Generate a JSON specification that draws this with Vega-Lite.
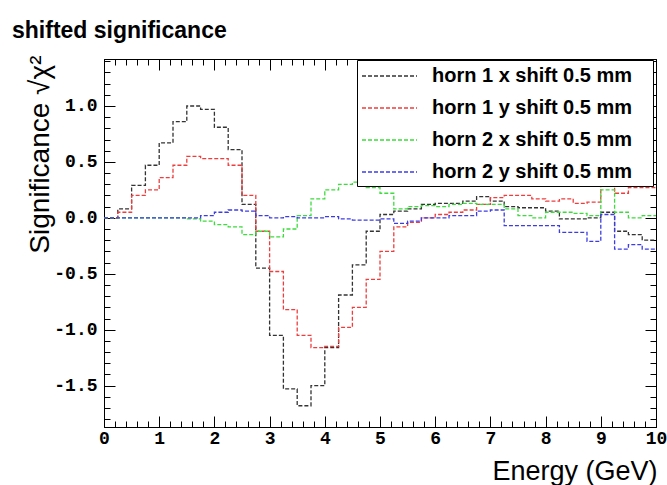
{
"$schema": "https://vega.github.io/schema/vega-lite/v6.json",
"width": 552, "height": 368,
"autosize": {"type": "none"},
"padding": {"left": 104, "top": 59, "right": 11, "bottom": 58},
"background": "white",
"title": {"text": "shifted significance", "anchor": "start", "frame": "group", "dx": -92, "dy": 27, "offset": 18, "font": "Liberation Sans", "fontSize": 23, "fontWeight": "bold", "color": "black", "baseline": "alphabetic"},
"config": {"view": {"stroke": "black", "strokeWidth": 1}},
"data": {"values": [
{"s":"horn 1 x shift 0.5 mm","e":0,"v":0},{"s":"horn 1 x shift 0.5 mm","e":0.25,"v":0.08},{"s":"horn 1 x shift 0.5 mm","e":0.5,"v":0.29},{"s":"horn 1 x shift 0.5 mm","e":0.75,"v":0.47},{"s":"horn 1 x shift 0.5 mm","e":1,"v":0.67},{"s":"horn 1 x shift 0.5 mm","e":1.25,"v":0.86},{"s":"horn 1 x shift 0.5 mm","e":1.5,"v":1.0},{"s":"horn 1 x shift 0.5 mm","e":1.75,"v":0.97},{"s":"horn 1 x shift 0.5 mm","e":2,"v":0.81},{"s":"horn 1 x shift 0.5 mm","e":2.25,"v":0.61},{"s":"horn 1 x shift 0.5 mm","e":2.5,"v":0.12},{"s":"horn 1 x shift 0.5 mm","e":2.75,"v":-0.45},{"s":"horn 1 x shift 0.5 mm","e":3,"v":-1.05},{"s":"horn 1 x shift 0.5 mm","e":3.25,"v":-1.53},{"s":"horn 1 x shift 0.5 mm","e":3.5,"v":-1.68},{"s":"horn 1 x shift 0.5 mm","e":3.75,"v":-1.5},{"s":"horn 1 x shift 0.5 mm","e":4,"v":-1.16},{"s":"horn 1 x shift 0.5 mm","e":4.25,"v":-0.69},{"s":"horn 1 x shift 0.5 mm","e":4.5,"v":-0.42},{"s":"horn 1 x shift 0.5 mm","e":4.75,"v":-0.12},{"s":"horn 1 x shift 0.5 mm","e":5,"v":0.03},{"s":"horn 1 x shift 0.5 mm","e":5.25,"v":0.06},{"s":"horn 1 x shift 0.5 mm","e":5.5,"v":0.08},{"s":"horn 1 x shift 0.5 mm","e":5.75,"v":0.12},{"s":"horn 1 x shift 0.5 mm","e":6,"v":0.13},{"s":"horn 1 x shift 0.5 mm","e":6.25,"v":0.13},{"s":"horn 1 x shift 0.5 mm","e":6.5,"v":0.15},{"s":"horn 1 x shift 0.5 mm","e":6.75,"v":0.19},{"s":"horn 1 x shift 0.5 mm","e":7,"v":0.15},{"s":"horn 1 x shift 0.5 mm","e":7.25,"v":0.1},{"s":"horn 1 x shift 0.5 mm","e":7.5,"v":0.09},{"s":"horn 1 x shift 0.5 mm","e":7.75,"v":0.09},{"s":"horn 1 x shift 0.5 mm","e":8,"v":0.06},{"s":"horn 1 x shift 0.5 mm","e":8.25,"v":-0.01},{"s":"horn 1 x shift 0.5 mm","e":8.5,"v":-0.01},{"s":"horn 1 x shift 0.5 mm","e":8.75,"v":0.0},{"s":"horn 1 x shift 0.5 mm","e":9,"v":0.05},{"s":"horn 1 x shift 0.5 mm","e":9.25,"v":-0.12},{"s":"horn 1 x shift 0.5 mm","e":9.5,"v":-0.15},{"s":"horn 1 x shift 0.5 mm","e":9.75,"v":-0.2},{"s":"horn 1 x shift 0.5 mm","e":10,"v":-0.2},
{"s":"horn 1 y shift 0.5 mm","e":0,"v":0},{"s":"horn 1 y shift 0.5 mm","e":0.25,"v":0.05},{"s":"horn 1 y shift 0.5 mm","e":0.5,"v":0.2},{"s":"horn 1 y shift 0.5 mm","e":0.75,"v":0.25},{"s":"horn 1 y shift 0.5 mm","e":1,"v":0.36},{"s":"horn 1 y shift 0.5 mm","e":1.25,"v":0.47},{"s":"horn 1 y shift 0.5 mm","e":1.5,"v":0.55},{"s":"horn 1 y shift 0.5 mm","e":1.75,"v":0.53},{"s":"horn 1 y shift 0.5 mm","e":2,"v":0.53},{"s":"horn 1 y shift 0.5 mm","e":2.25,"v":0.47},{"s":"horn 1 y shift 0.5 mm","e":2.5,"v":0.2},{"s":"horn 1 y shift 0.5 mm","e":2.75,"v":-0.12},{"s":"horn 1 y shift 0.5 mm","e":3,"v":-0.48},{"s":"horn 1 y shift 0.5 mm","e":3.25,"v":-0.82},{"s":"horn 1 y shift 0.5 mm","e":3.5,"v":-1.05},{"s":"horn 1 y shift 0.5 mm","e":3.75,"v":-1.16},{"s":"horn 1 y shift 0.5 mm","e":4,"v":-1.15},{"s":"horn 1 y shift 0.5 mm","e":4.25,"v":-0.98},{"s":"horn 1 y shift 0.5 mm","e":4.5,"v":-0.8},{"s":"horn 1 y shift 0.5 mm","e":4.75,"v":-0.55},{"s":"horn 1 y shift 0.5 mm","e":5,"v":-0.3},{"s":"horn 1 y shift 0.5 mm","e":5.25,"v":-0.08},{"s":"horn 1 y shift 0.5 mm","e":5.5,"v":-0.04},{"s":"horn 1 y shift 0.5 mm","e":5.75,"v":0.0},{"s":"horn 1 y shift 0.5 mm","e":6,"v":0.03},{"s":"horn 1 y shift 0.5 mm","e":6.25,"v":0.05},{"s":"horn 1 y shift 0.5 mm","e":6.5,"v":0.07},{"s":"horn 1 y shift 0.5 mm","e":6.75,"v":0.12},{"s":"horn 1 y shift 0.5 mm","e":7,"v":0.18},{"s":"horn 1 y shift 0.5 mm","e":7.25,"v":0.2},{"s":"horn 1 y shift 0.5 mm","e":7.5,"v":0.2},{"s":"horn 1 y shift 0.5 mm","e":7.75,"v":0.17},{"s":"horn 1 y shift 0.5 mm","e":8,"v":0.15},{"s":"horn 1 y shift 0.5 mm","e":8.25,"v":0.17},{"s":"horn 1 y shift 0.5 mm","e":8.5,"v":0.13},{"s":"horn 1 y shift 0.5 mm","e":8.75,"v":0.14},{"s":"horn 1 y shift 0.5 mm","e":9,"v":0.29},{"s":"horn 1 y shift 0.5 mm","e":9.25,"v":0.22},{"s":"horn 1 y shift 0.5 mm","e":9.5,"v":0.27},{"s":"horn 1 y shift 0.5 mm","e":9.75,"v":0.27},{"s":"horn 1 y shift 0.5 mm","e":10,"v":0.27},
{"s":"horn 2 x shift 0.5 mm","e":0,"v":0},{"s":"horn 2 x shift 0.5 mm","e":0.25,"v":0},{"s":"horn 2 x shift 0.5 mm","e":0.5,"v":0},{"s":"horn 2 x shift 0.5 mm","e":0.75,"v":0},{"s":"horn 2 x shift 0.5 mm","e":1,"v":0},{"s":"horn 2 x shift 0.5 mm","e":1.25,"v":0},{"s":"horn 2 x shift 0.5 mm","e":1.5,"v":-0.01},{"s":"horn 2 x shift 0.5 mm","e":1.75,"v":-0.03},{"s":"horn 2 x shift 0.5 mm","e":2,"v":-0.06},{"s":"horn 2 x shift 0.5 mm","e":2.25,"v":-0.08},{"s":"horn 2 x shift 0.5 mm","e":2.5,"v":-0.15},{"s":"horn 2 x shift 0.5 mm","e":2.75,"v":-0.12},{"s":"horn 2 x shift 0.5 mm","e":3,"v":-0.17},{"s":"horn 2 x shift 0.5 mm","e":3.25,"v":-0.1},{"s":"horn 2 x shift 0.5 mm","e":3.5,"v":0.02},{"s":"horn 2 x shift 0.5 mm","e":3.75,"v":0.17},{"s":"horn 2 x shift 0.5 mm","e":4,"v":0.25},{"s":"horn 2 x shift 0.5 mm","e":4.25,"v":0.3},{"s":"horn 2 x shift 0.5 mm","e":4.5,"v":0.32},{"s":"horn 2 x shift 0.5 mm","e":4.75,"v":0.27},{"s":"horn 2 x shift 0.5 mm","e":5,"v":0.22},{"s":"horn 2 x shift 0.5 mm","e":5.25,"v":0.08},{"s":"horn 2 x shift 0.5 mm","e":5.5,"v":0.1},{"s":"horn 2 x shift 0.5 mm","e":5.75,"v":0.11},{"s":"horn 2 x shift 0.5 mm","e":6,"v":0.1},{"s":"horn 2 x shift 0.5 mm","e":6.25,"v":0.12},{"s":"horn 2 x shift 0.5 mm","e":6.5,"v":0.13},{"s":"horn 2 x shift 0.5 mm","e":6.75,"v":0.12},{"s":"horn 2 x shift 0.5 mm","e":7,"v":0.12},{"s":"horn 2 x shift 0.5 mm","e":7.25,"v":0.08},{"s":"horn 2 x shift 0.5 mm","e":7.5,"v":0.02},{"s":"horn 2 x shift 0.5 mm","e":7.75,"v":0.0},{"s":"horn 2 x shift 0.5 mm","e":8,"v":0.05},{"s":"horn 2 x shift 0.5 mm","e":8.25,"v":0.05},{"s":"horn 2 x shift 0.5 mm","e":8.5,"v":0.04},{"s":"horn 2 x shift 0.5 mm","e":8.75,"v":0.02},{"s":"horn 2 x shift 0.5 mm","e":9,"v":0.25},{"s":"horn 2 x shift 0.5 mm","e":9.25,"v":0.05},{"s":"horn 2 x shift 0.5 mm","e":9.5,"v":0.0},{"s":"horn 2 x shift 0.5 mm","e":9.75,"v":0.02},{"s":"horn 2 x shift 0.5 mm","e":10,"v":0.02},
{"s":"horn 2 y shift 0.5 mm","e":0,"v":0},{"s":"horn 2 y shift 0.5 mm","e":0.25,"v":0},{"s":"horn 2 y shift 0.5 mm","e":0.5,"v":0},{"s":"horn 2 y shift 0.5 mm","e":0.75,"v":0},{"s":"horn 2 y shift 0.5 mm","e":1,"v":0},{"s":"horn 2 y shift 0.5 mm","e":1.25,"v":0},{"s":"horn 2 y shift 0.5 mm","e":1.5,"v":0},{"s":"horn 2 y shift 0.5 mm","e":1.75,"v":0.02},{"s":"horn 2 y shift 0.5 mm","e":2,"v":0.05},{"s":"horn 2 y shift 0.5 mm","e":2.25,"v":0.07},{"s":"horn 2 y shift 0.5 mm","e":2.5,"v":0.06},{"s":"horn 2 y shift 0.5 mm","e":2.75,"v":0.02},{"s":"horn 2 y shift 0.5 mm","e":3,"v":0.0},{"s":"horn 2 y shift 0.5 mm","e":3.25,"v":0.01},{"s":"horn 2 y shift 0.5 mm","e":3.5,"v":0.0},{"s":"horn 2 y shift 0.5 mm","e":3.75,"v":0.0},{"s":"horn 2 y shift 0.5 mm","e":4,"v":0.01},{"s":"horn 2 y shift 0.5 mm","e":4.25,"v":-0.01},{"s":"horn 2 y shift 0.5 mm","e":4.5,"v":-0.02},{"s":"horn 2 y shift 0.5 mm","e":4.75,"v":-0.02},{"s":"horn 2 y shift 0.5 mm","e":5,"v":-0.01},{"s":"horn 2 y shift 0.5 mm","e":5.25,"v":-0.05},{"s":"horn 2 y shift 0.5 mm","e":5.5,"v":-0.03},{"s":"horn 2 y shift 0.5 mm","e":5.75,"v":0.0},{"s":"horn 2 y shift 0.5 mm","e":6,"v":0.0},{"s":"horn 2 y shift 0.5 mm","e":6.25,"v":0.02},{"s":"horn 2 y shift 0.5 mm","e":6.5,"v":0.02},{"s":"horn 2 y shift 0.5 mm","e":6.75,"v":0.06},{"s":"horn 2 y shift 0.5 mm","e":7,"v":0.07},{"s":"horn 2 y shift 0.5 mm","e":7.25,"v":-0.07},{"s":"horn 2 y shift 0.5 mm","e":7.5,"v":-0.07},{"s":"horn 2 y shift 0.5 mm","e":7.75,"v":-0.07},{"s":"horn 2 y shift 0.5 mm","e":8,"v":-0.07},{"s":"horn 2 y shift 0.5 mm","e":8.25,"v":-0.13},{"s":"horn 2 y shift 0.5 mm","e":8.5,"v":-0.13},{"s":"horn 2 y shift 0.5 mm","e":8.75,"v":-0.21},{"s":"horn 2 y shift 0.5 mm","e":9,"v":0.03},{"s":"horn 2 y shift 0.5 mm","e":9.25,"v":-0.28},{"s":"horn 2 y shift 0.5 mm","e":9.5,"v":-0.24},{"s":"horn 2 y shift 0.5 mm","e":9.75,"v":-0.28},{"s":"horn 2 y shift 0.5 mm","e":10,"v":-0.28}
]},
"layer": [
{"mark": {"type": "line", "interpolate": "step-after", "strokeWidth": 1.3, "strokeDash": [4, 2]},
 "encoding": {
  "x": {"field": "e", "type": "quantitative", "scale": {"domain": [0, 10], "nice": false, "zero": false},
   "axis": {"orient": "bottom", "values": [0,0.2,0.4,0.6,0.8,1,1.2,1.4,1.6,1.8,2,2.2,2.4,2.6,2.8,3,3.2,3.4,3.6,3.8,4,4.2,4.4,4.6,4.8,5,5.2,5.4,5.6,5.8,6,6.2,6.4,6.6,6.8,7,7.2,7.4,7.6,7.8,8,8.2,8.4,8.6,8.8,9,9.2,9.4,9.6,9.8,10],
    "labelExpr": "abs(datum.value-round(datum.value))<0.001 ? format(datum.value,'d') : ''",
    "tickSize": {"condition": {"test": "abs(datum.value-round(datum.value))<0.001", "value": -11}, "value": -6},
    "labelFont": "Liberation Mono", "labelFontWeight": "bold", "labelFontSize": 18, "labelColor": "black", "labelPadding": 13, "labelFlush": false, "labelOverlap": false,
    "tickColor": "black", "domainColor": "black", "grid": false,
    "title": "Energy (GeV)", "titleFont": "Liberation Sans", "titleFontSize": 27, "titleFontWeight": "normal", "titleColor": "black", "titleAnchor": "end", "titleX": 553, "titleY": 52, "titleBaseline": "alphabetic"}},
  "y": {"field": "v", "type": "quantitative", "scale": {"domain": [-1.87, 1.42], "nice": false, "zero": false},
   "axis": {"orient": "left", "values": [-1.8,-1.7,-1.6,-1.5,-1.4,-1.3,-1.2,-1.1,-1,-0.9,-0.8,-0.7,-0.6,-0.5,-0.4,-0.3,-0.2,-0.1,0,0.1,0.2,0.3,0.4,0.5,0.6,0.7,0.8,0.9,1,1.1,1.2,1.3,1.4],
    "labelExpr": "abs(datum.value*2-round(datum.value*2))<0.001 ? replace(format(datum.value,'.1f'),'\u2212','-') : ''",
    "tickSize": {"condition": {"test": "abs(datum.value*2-round(datum.value*2))<0.001", "value": -11}, "value": -6},
    "labelFont": "Liberation Mono", "labelFontWeight": "bold", "labelFontSize": 18, "labelColor": "black", "labelPadding": 18, "labelFlush": false, "labelOverlap": false,
    "tickColor": "black", "domainColor": "black", "grid": false,
    "title": "Significance √χ²", "titleFont": "Liberation Sans", "titleFontSize": 28, "titleFontWeight": "normal", "titleColor": "black", "titleAnchor": "end", "titleX": -56, "titleY": -4, "titleBaseline": "alphabetic"}},
  "color": {"field": "s", "type": "nominal",
   "scale": {"domain": ["horn 1 x shift 0.5 mm", "horn 1 y shift 0.5 mm", "horn 2 x shift 0.5 mm", "horn 2 y shift 0.5 mm"], "range": ["#333333", "#f03c3c", "#3cdc3c", "#3c3ce6"]},
   "legend": {"orient": "none", "legendX": 253, "legendY": 1, "title": "\u00a0", "titleOrient": "right", "titleFontSize": 14, "titlePadding": 17, "strokeColor": "black", "fillColor": "white", "padding": 4, "symbolType": "M-1,0H4", "symbolSize": 484, "symbolStrokeWidth": 1.5, "symbolDash": [4, 2], "symbolFillColor": "transparent", "labelFont": "Liberation Sans", "labelFontWeight": "bold", "labelFontSize": 20, "labelColor": "black", "labelOffset": 47, "rowPadding": 10, "labelLimit": 400}}
 }},
{"mark": {"type": "line", "interpolate": "step-after", "opacity": 0},
 "encoding": {
  "detail": {"field": "s"},
  "x": {"field": "e", "type": "quantitative",
   "axis": {"orient": "top", "values": [0,0.2,0.4,0.6,0.8,1,1.2,1.4,1.6,1.8,2,2.2,2.4,2.6,2.8,3,3.2,3.4,3.6,3.8,4,4.2,4.4,4.6,4.8,5,5.2,5.4,5.6,5.8,6,6.2,6.4,6.6,6.8,7,7.2,7.4,7.6,7.8,8,8.2,8.4,8.6,8.8,9,9.2,9.4,9.6,9.8,10],
    "labels": false, "title": null, "grid": false, "tickColor": "black", "domainColor": "black",
    "tickSize": {"condition": {"test": "abs(datum.value-round(datum.value))<0.001", "value": -11}, "value": -6}}},
  "y": {"field": "v", "type": "quantitative",
   "axis": {"orient": "right", "values": [-1.8,-1.7,-1.6,-1.5,-1.4,-1.3,-1.2,-1.1,-1,-0.9,-0.8,-0.7,-0.6,-0.5,-0.4,-0.3,-0.2,-0.1,0,0.1,0.2,0.3,0.4,0.5,0.6,0.7,0.8,0.9,1,1.1,1.2,1.3,1.4],
    "labels": false, "title": null, "grid": false, "tickColor": "black", "domainColor": "black",
    "tickSize": {"condition": {"test": "abs(datum.value*2-round(datum.value*2))<0.001", "value": -11}, "value": -6}}}
 }}
]
}
